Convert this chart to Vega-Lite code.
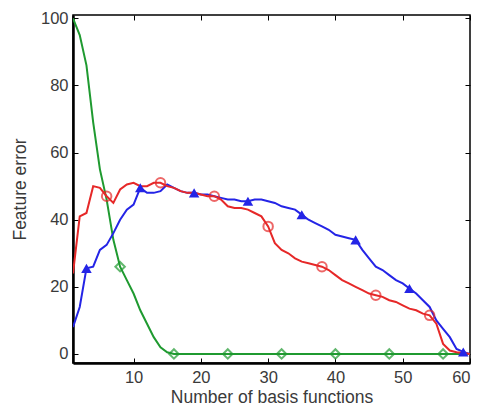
{
  "$schema": "https://vega.github.io/schema/vega-lite/v6.json",
  "width": 397,
  "height": 348,
  "autosize": {"type": "none"},
  "padding": {"left": 73, "top": 15, "right": 11, "bottom": 43},
  "background": "white",
  "config": {
    "view": {"stroke": "black", "strokeWidth": 1.5},
    "axis": {
      "labelFont": "Liberation Sans",
      "titleFont": "Liberation Sans",
      "labelFontSize": 16.5,
      "titleFontSize": 17.5,
      "labelColor": "#3a3a3a",
      "titleColor": "#3a3a3a",
      "titleFontWeight": "normal",
      "domainColor": "black",
      "tickColor": "black",
      "grid": false
    }
  },
  "datasets": {
    "curves": [
      {"x": 1, "red": 24, "blue": 8, "green": 100},
      {"x": 2, "red": 41, "blue": 14, "green": 95},
      {"x": 3, "red": 42, "blue": 25.5, "green": 86},
      {"x": 4, "red": 50, "blue": 26, "green": 69},
      {"x": 5, "red": 49.5, "blue": 31, "green": 55},
      {"x": 6, "red": 47, "blue": 32.5, "green": 46},
      {"x": 7, "red": 45, "blue": 36, "green": 34},
      {"x": 8, "red": 49, "blue": 40, "green": 26},
      {"x": 9, "red": 50.5, "blue": 43, "green": 22},
      {"x": 10, "red": 51, "blue": 44.5, "green": 18},
      {"x": 11, "red": 50, "blue": 49.5, "green": 13},
      {"x": 12, "red": 50, "blue": 48, "green": 9},
      {"x": 13, "red": 51, "blue": 48, "green": 5},
      {"x": 14, "red": 51, "blue": 48.5, "green": 2},
      {"x": 15, "red": 50, "blue": 50.5, "green": 0.5},
      {"x": 16, "red": 49.5, "blue": 49.5, "green": 0},
      {"x": 17, "red": 48.5, "blue": 48.5, "green": 0},
      {"x": 18, "red": 48, "blue": 48, "green": 0},
      {"x": 19, "red": 48, "blue": 48, "green": 0},
      {"x": 20, "red": 47.5, "blue": 47.5, "green": 0},
      {"x": 21, "red": 47, "blue": 47.5, "green": 0},
      {"x": 22, "red": 47, "blue": 47, "green": 0},
      {"x": 23, "red": 46, "blue": 46.5, "green": 0},
      {"x": 24, "red": 44, "blue": 46, "green": 0},
      {"x": 25, "red": 43.5, "blue": 46, "green": 0},
      {"x": 26, "red": 43.5, "blue": 45.5, "green": 0},
      {"x": 27, "red": 43, "blue": 45.5, "green": 0},
      {"x": 28, "red": 42, "blue": 46, "green": 0},
      {"x": 29, "red": 41, "blue": 46, "green": 0},
      {"x": 30, "red": 38, "blue": 45.5, "green": 0},
      {"x": 31, "red": 33, "blue": 45, "green": 0},
      {"x": 32, "red": 31, "blue": 44, "green": 0},
      {"x": 33, "red": 30, "blue": 43.5, "green": 0},
      {"x": 34, "red": 28.5, "blue": 43, "green": 0},
      {"x": 35, "red": 27.5, "blue": 41.5, "green": 0},
      {"x": 36, "red": 27, "blue": 40, "green": 0},
      {"x": 37, "red": 26.5, "blue": 39, "green": 0},
      {"x": 38, "red": 26, "blue": 38, "green": 0},
      {"x": 39, "red": 25, "blue": 37, "green": 0},
      {"x": 40, "red": 23.5, "blue": 35.5, "green": 0},
      {"x": 41, "red": 22, "blue": 35, "green": 0},
      {"x": 42, "red": 21, "blue": 34.5, "green": 0},
      {"x": 43, "red": 20, "blue": 34, "green": 0},
      {"x": 44, "red": 19, "blue": 31, "green": 0},
      {"x": 45, "red": 18, "blue": 28.5, "green": 0},
      {"x": 46, "red": 17.5, "blue": 26, "green": 0},
      {"x": 47, "red": 17, "blue": 25, "green": 0},
      {"x": 48, "red": 16, "blue": 23.5, "green": 0},
      {"x": 49, "red": 15.5, "blue": 22, "green": 0},
      {"x": 50, "red": 14.5, "blue": 21, "green": 0},
      {"x": 51, "red": 13.5, "blue": 19.5, "green": 0},
      {"x": 52, "red": 13, "blue": 18, "green": 0},
      {"x": 53, "red": 12, "blue": 16, "green": 0},
      {"x": 54, "red": 11.5, "blue": 14, "green": 0},
      {"x": 55, "red": 9, "blue": 10, "green": 0},
      {"x": 56, "red": 3, "blue": 7.5, "green": 0},
      {"x": 57, "red": 1, "blue": 5, "green": 0},
      {"x": 58, "red": 0.5, "blue": 1.5, "green": 0},
      {"x": 59, "red": 0.3, "blue": 0.6, "green": 0},
      {"x": 60, "red": 0, "blue": 0, "green": 0}
    ]
  },
  "data": {"name": "curves"},
  "transform": [{"fold": ["green", "blue", "red"], "as": ["series", "value"]}],
  "resolve": {"axis": {"x": "independent", "y": "independent"}},
  "layer": [
    {
      "mark": {"type": "line", "strokeWidth": 2, "clip": true},
      "encoding": {
        "x": {
          "field": "x", "type": "quantitative",
          "scale": {"domain": [1, 60], "nice": false, "zero": false},
          "axis": {"orient": "bottom", "values": [10, 20, 30, 40, 50, 60], "title": "Number of basis functions", "tickSize": -5, "domainWidth": 2.5, "labelPadding": 11, "titlePadding": 3}
        },
        "y": {
          "field": "value", "type": "quantitative",
          "scale": {"domain": [-2.7, 101], "nice": false, "zero": false},
          "axis": {"orient": "left", "values": [0, 20, 40, 60, 80, 100], "title": "Feature error", "tickSize": -5, "domainWidth": 2.5, "labelPadding": 10, "titlePadding": 11}
        },
        "color": {
          "field": "series", "type": "nominal",
          "scale": {"domain": ["green", "blue", "red"], "range": ["#1f9a30", "#2424e6", "#e62828"]},
          "legend": null
        }
      }
    },
    {
      "transform": [{"filter": {"and": [{"field": "series", "equal": "red"}, {"field": "x", "oneOf": [6, 14, 22, 30, 38, 46, 54]}]}}],
      "mark": {"type": "point", "shape": "circle", "filled": false, "size": 90, "strokeWidth": 2},
      "encoding": {
        "x": {"field": "x", "type": "quantitative", "axis": null},
        "y": {"field": "value", "type": "quantitative", "axis": null},
        "color": {"field": "series", "type": "nominal", "legend": null}
      }
    },
    {
      "transform": [{"filter": {"and": [{"field": "series", "equal": "blue"}, {"field": "x", "oneOf": [3, 11, 19, 27, 35, 43, 51, 59]}]}}],
      "mark": {"type": "point", "shape": "triangle-up", "filled": true, "size": 110, "opacity": 1},
      "encoding": {
        "x": {"field": "x", "type": "quantitative", "axis": null},
        "y": {"field": "value", "type": "quantitative", "axis": null},
        "color": {"field": "series", "type": "nominal", "legend": null}
      }
    },
    {
      "transform": [{"filter": {"and": [{"field": "series", "equal": "green"}, {"field": "x", "oneOf": [8, 16, 24, 32, 40, 48, 56]}]}}],
      "mark": {"type": "point", "shape": "diamond", "filled": false, "size": 90, "strokeWidth": 2},
      "encoding": {
        "x": {"field": "x", "type": "quantitative", "axis": {"orient": "top", "values": [10, 20, 30, 40, 50, 60], "labels": false, "title": null, "tickSize": -5, "domain": false}},
        "y": {"field": "value", "type": "quantitative", "axis": {"orient": "right", "values": [0, 20, 40, 60, 80, 100], "labels": false, "title": null, "tickSize": -5, "domain": false}},
        "color": {"field": "series", "type": "nominal", "legend": null}
      }
    }
  ]
}
